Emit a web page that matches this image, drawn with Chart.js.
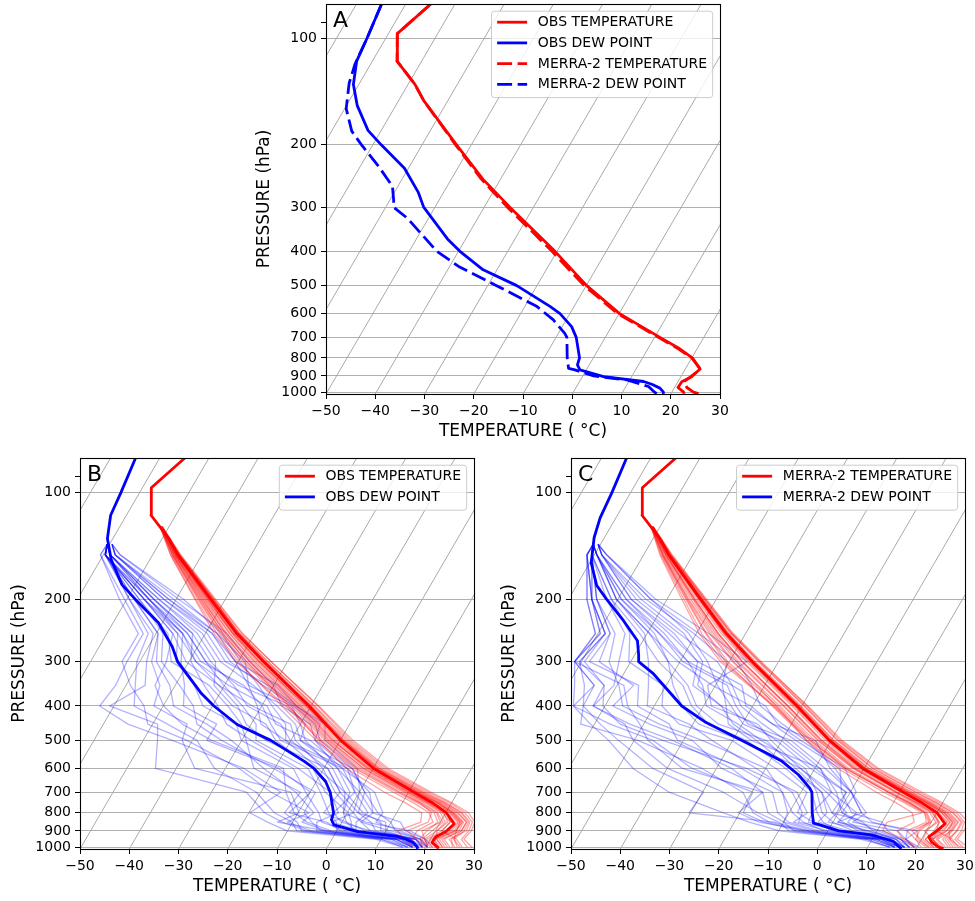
<!DOCTYPE html>
<html>
<head>
<meta charset="utf-8">
<script src="https://cdn.jsdelivr.net/npm/chart.js@4.4.0/dist/chart.umd.min.js"></script>
<style>
  body { margin: 0; background: #fff; width: 975px; height: 901px; position: relative; overflow: hidden; }
  canvas { position: absolute; }
</style>
</head>
<body>
<canvas id="skewA" style="left:240px;top:0px" width="490" height="445"></canvas>
<canvas id="skewB" style="left:0px;top:450px" width="485" height="451"></canvas>
<canvas id="skewC" style="left:490px;top:450px" width="485" height="451"></canvas>
<script>
// axis limits and ticks
const P_BOTTOM = 1012;
const P_TOP = 80;
const P_TICKS = [90, 100, 200, 300, 400, 500, 600, 700, 800, 900, 1000];
const T_MIN = -50;
const T_MAX = 30;
const ISOTHERMS = [-100, -90, -80, -70, -60, -50, -40, -30, -20, -10, 0, 10, 20, 30];

// mean profiles (deg C)
const MEAN_T_P = [1010, 1000, 970, 935, 905, 860, 800, 750, 700, 600, 500, 400, 300, 250, 200, 150, 135, 116, 97, 80];
const OBS_T = [22.7, 22.4, 20.7, 20.8, 22.2, 23.0, 20.1, 16.1, 11.1, 0.1, -9.9, -20.4, -34.8, -43.6, -53.0, -64.9, -68.6, -75.0, -78.2, -74.9];
const MERRA_T = [25.6, 24.4, 22.5, 21.2, 22.0, 23.0, 20.0, 15.8, 10.8, -0.3, -10.4, -21.0, -35.3, -43.9, -53.2, -64.9, -68.6, -75.0, -78.2, -74.9];

const OBS_TD_P = [1010, 1000, 974, 950, 933, 904, 865, 837, 800, 700, 653, 600, 573, 500, 451, 400, 369, 300, 272, 233, 200, 182, 155, 135, 116, 100, 80];
const OBS_TD = [18.5, 18.3, 17.1, 15.0, 13.0, 4.3, -1.3, -2.4, -2.8, -5.9, -8.1, -12.0, -14.8, -24.1, -32.8, -39.7, -43.7, -52.3, -55.2, -60.8, -68.3, -72.7, -77.8, -81.1, -83.2, -83.8, -84.9];

const MERRA_TD_P = [1010, 1000, 964, 923, 900, 865, 856, 800, 700, 682, 625, 573, 500, 443, 400, 323, 300, 287, 262, 230, 200, 183, 158, 134, 118, 100, 80];
const MERRA_TD = [17.1, 16.5, 14.6, 9.4, 2.2, -2.3, -3.8, -5.3, -7.8, -8.7, -12.6, -17.5, -28.2, -37.9, -44.4, -54.2, -58.4, -59.2, -61.1, -66.3, -72.3, -75.9, -79.7, -82.1, -83.2, -83.8, -84.9];

// individual soundings
const MEMBER_T_P = [1000, 950, 900, 850, 800, 750, 700, 600, 500, 400, 300, 250, 200, 150, 125];
const MEMBER_TD_P = [1000, 950, 900, 850, 800, 700, 600, 500, 450, 400, 350, 300, 250, 200, 150, 140];

const OBS_T_MEMBERS = [
  [23.4, 21.3, 23.8, 24.0, 21.1, 16.6, 11.6, 0.3, -9.9, -20.9, -35.6, -44.2, -53.5, -65.2, -71.5],
  [20.4, 18.3, 19.3, 20.5, 18.3, 14.1, 8.9, -2.4, -12.7, -23.6, -38.3, -46.4, -55.0, -65.9, -71.7],
  [26.4, 24.8, 25.8, 25.7, 23.1, 18.6, 13.1, 1.6, -8.7, -19.4, -34.0, -43.1, -52.4, -64.5, -71.4],
  [21.4, 19.3, 21.3, 22.0, 19.3, 15.1, 9.9, -1.4, -11.5, -22.2, -36.8, -45.1, -54.2, -65.5, -71.6],
  [24.9, 22.8, 24.8, 24.7, 21.9, 17.6, 12.3, 0.9, -9.4, -20.1, -35.0, -43.6, -52.8, -64.7, -71.5],
  [18.4, 16.3, 16.3, 18.5, 16.6, 12.3, 6.9, -4.4, -14.9, -25.9, -40.0, -47.6, -56.0, -66.3, -71.8],
  [28.4, 26.3, 26.8, 26.5, 23.9, 19.6, 14.1, 2.6, -7.9, -18.6, -33.3, -42.4, -52.0, -64.3, -71.3],
  [22.4, 20.3, 22.8, 23.5, 20.6, 16.1, 10.6, -0.7, -10.9, -21.6, -36.2, -44.6, -53.8, -65.3, -71.5],
  [19.4, 17.3, 14.3, 17.5, 17.1, 13.6, 8.1, -3.4, -13.7, -24.6, -39.2, -47.1, -55.6, -66.1, -71.7],
  [25.4, 24.3, 25.3, 25.3, 22.6, 18.3, 12.9, 1.3, -9.1, -19.8, -34.4, -43.3, -52.6, -64.6, -71.4],
  [20.9, 18.8, 20.3, 21.0, 18.9, 14.6, 9.3, -1.9, -12.1, -22.9, -37.6, -45.8, -54.8, -65.7, -71.6],
  [23.9, 21.8, 24.3, 24.3, 21.5, 17.1, 11.9, 0.6, -9.7, -20.6, -35.3, -44.0, -53.2, -64.9, -71.5],
  [27.4, 25.3, 21.3, 22.0, 20.1, 15.6, 10.1, -1.1, -11.3, -22.0, -36.6, -45.0, -54.0, -65.4, -71.5],
  [22.9, 20.8, 23.3, 23.7, 20.9, 16.3, 11.1, -0.4, -10.5, -21.2, -35.8, -44.4, -53.6, -65.1, -71.5],
  [19.9, 17.8, 18.3, 19.5, 17.6, 13.1, 7.6, -3.7, -14.1, -25.2, -40.4, -48.2, -56.2, -66.4, -71.8],
  [24.4, 22.3, 25.3, 25.3, 22.3, 17.9, 12.6, 1.1, -9.3, -20.0, -34.6, -43.2, -52.5, -64.6, -71.4],
  [17.4, 14.8, 12.3, 16.0, 15.1, 10.6, 5.1, -5.4, -14.4, -24.4, -38.3, -46.4, -55.2, -65.9, -71.7],
  [29.4, 26.8, 27.3, 27.0, 24.6, 20.1, 14.6, 3.1, -7.4, -18.4, -33.3, -42.6, -52.2, -64.4, -71.4],
  [23.4, 21.3, 20.3, 21.5, 19.6, 15.1, 9.6, -1.9, -12.4, -23.2, -37.8, -46.0, -54.6, -65.6, -71.6],
  [21.9, 19.8, 22.3, 23.0, 20.1, 15.6, 10.3, -0.9, -11.7, -22.6, -37.2, -45.6, -54.4, -65.5, -71.5],
  [25.9, 23.8, 26.3, 26.0, 23.3, 18.9, 13.6, 2.1, -8.3, -19.2, -34.0, -43.0, -52.5, -64.6, -71.4],
  [20.4, 18.8, 17.3, 20.0, 18.1, 13.6, 8.3, -2.9, -13.1, -24.0, -38.8, -46.8, -55.4, -66.0, -71.7],
  [22.4, 20.8, 24.1, 24.5, 21.6, 17.3, 12.1, 0.7, -9.6, -20.4, -35.1, -43.8, -53.0, -64.8, -71.5],
  [26.9, 24.8, 24.3, 24.0, 21.3, 17.1, 11.7, 0.3, -10.1, -21.0, -35.8, -44.4, -53.5, -65.1, -71.5]
];

const OBS_TD_MEMBERS = [
  [18.3, 16.0, 5.9, 0.9, -0.8, -1.9, -7.2, -18.1, -21.0, -26.9, -34.1, -43.6, -50.6, -63.5, -78.6, -80.5],
  [17.3, 13.0, -3.1, -6.1, -8.8, -8.9, -20.2, -34.1, -41.0, -43.9, -49.1, -55.6, -58.6, -67.5, -79.6, -80.5],
  [20.3, 18.0, 11.9, 9.9, 6.2, 1.1, -4.2, -14.1, -17.0, -23.5, -32.1, -41.6, -48.6, -61.5, -77.6, -79.5],
  [16.3, 11.0, -8.1, -10.1, -14.8, -20.9, -32.2, -39.1, -47.0, -55.9, -58.1, -60.6, -61.6, -69.5, -79.6, -80.5],
  [19.3, 17.0, 7.9, 5.9, 2.2, -3.9, -9.2, -20.1, -24.0, -32.9, -38.1, -45.6, -52.6, -64.5, -78.6, -80.5],
  [18.3, 14.0, 1.9, -4.1, -5.8, -10.9, -16.2, -30.1, -33.0, -41.9, -46.1, -52.6, -55.6, -66.5, -79.6, -80.5],
  [21.3, 19.0, 13.9, 11.9, 5.2, 2.1, -5.2, -15.1, -18.0, -25.9, -30.1, -37.6, -45.6, -59.5, -76.6, -79.5],
  [15.3, 9.0, -10.1, -15.1, -19.8, -15.9, -26.2, -44.1, -55.0, -62.9, -62.1, -62.6, -62.6, -70.5, -80.6, -80.5],
  [19.3, 15.0, 3.9, 2.9, 4.2, -0.9, -6.2, -22.1, -26.0, -29.9, -36.1, -47.6, -54.6, -65.5, -78.6, -80.5],
  [17.3, 12.0, -0.1, -1.1, -3.8, -7.9, -13.2, -27.1, -29.0, -33.9, -40.1, -46.6, -53.6, -65.5, -79.6, -80.5],
  [20.3, 18.0, 10.9, 3.9, 1.2, 0.1, -3.2, -13.1, -15.0, -23.0, -31.1, -42.6, -49.6, -62.5, -77.6, -79.5],
  [16.3, 10.0, -6.1, -12.1, -16.8, -22.9, -44.2, -47.1, -49.0, -60.9, -56.1, -58.6, -60.6, -69.5, -79.6, -80.5],
  [18.3, 16.0, 4.9, -2.1, 1.2, -4.9, -10.2, -19.1, -22.0, -31.9, -41.1, -50.6, -56.6, -66.5, -79.6, -80.5],
  [17.3, 13.0, -2.1, -8.1, -6.8, -12.9, -22.2, -32.1, -39.0, -47.9, -51.1, -56.6, -59.6, -68.5, -79.6, -80.5],
  [19.3, 17.0, 8.9, 7.9, 3.2, -2.9, -8.2, -17.1, -20.0, -23.9, -35.1, -40.6, -47.6, -60.5, -77.6, -79.5],
  [18.3, 14.0, -1.1, -7.1, -10.8, -14.9, -18.2, -36.1, -44.0, -49.9, -54.1, -54.6, -56.6, -66.5, -79.6, -80.5],
  [20.3, 17.0, 6.9, -0.1, -2.8, -0.9, -5.2, -21.1, -23.0, -27.9, -33.1, -39.6, -46.6, -58.5, -76.6, -79.5],
  [17.3, 14.0, -4.1, -5.1, -1.8, -5.9, -15.2, -28.1, -35.0, -38.9, -44.1, -49.6, -52.6, -64.5, -78.6, -80.5],
  [19.3, 18.0, 12.9, 6.9, 7.2, 3.1, -6.2, -16.1, -25.0, -28.9, -39.1, -48.6, -55.6, -65.5, -78.6, -80.5],
  [16.3, 12.0, -5.1, -11.1, -7.8, -17.9, -27.2, -41.1, -51.0, -53.9, -59.1, -63.6, -63.6, -71.5, -80.6, -80.5],
  [18.3, 15.0, 2.9, 1.9, 0.2, -6.9, -12.2, -23.1, -27.0, -35.9, -42.1, -44.6, -51.6, -63.5, -78.6, -80.5],
  [19.3, 16.0, 9.9, 8.9, 2.2, 1.1, -4.2, -18.1, -19.0, -24.9, -37.1, -46.6, -53.6, -64.5, -78.6, -80.5],
  [17.3, 13.0, 0.9, -3.1, -11.8, -9.9, -19.2, -37.1, -37.0, -45.9, -48.1, -51.6, -54.6, -65.5, -79.6, -80.5],
  [20.3, 19.0, 14.9, 4.9, -0.8, -2.9, -11.2, -21.1, -28.0, -30.9, -35.1, -38.6, -47.6, -61.5, -77.6, -79.5],
  [18.3, 13.0, -7.1, -9.1, -12.8, -11.9, -24.2, -29.1, -32.0, -36.9, -43.1, -53.6, -57.6, -67.5, -79.6, -80.5],
  [19.3, 17.0, 6.9, 3.9, 5.2, 0.1, -7.2, -15.1, -16.0, -22.9, -29.1, -40.6, -48.6, -62.5, -77.6, -79.5],
  [15.3, 10.0, -2.1, -13.1, -9.8, -13.9, -36.2, -42.1, -43.0, -51.9, -53.1, -57.6, -59.6, -68.5, -79.6, -80.5],
  [18.3, 16.0, 3.9, 0.9, -4.8, -3.9, -9.2, -25.1, -31.0, -34.9, -41.1, -48.6, -54.6, -66.5, -79.6, -80.5]
];

const MERRA_T_MEMBERS = [
  [24.9, 22.3, 23.6, 23.7, 21.0, 16.6, 11.4, 0.1, -10.2, -21.0, -35.6, -44.1, -53.4, -65.0, -71.5],
  [21.9, 18.8, 18.6, 20.0, 18.0, 13.6, 8.3, -3.1, -13.4, -24.5, -39.3, -47.3, -55.8, -66.1, -71.7],
  [27.9, 25.8, 26.1, 26.0, 23.2, 18.6, 13.2, 1.7, -8.8, -19.6, -34.1, -43.0, -52.4, -64.4, -71.4],
  [23.4, 20.8, 21.6, 21.7, 19.0, 14.6, 9.3, -1.9, -12.2, -23.0, -37.5, -45.7, -54.6, -65.5, -71.6],
  [26.4, 24.3, 24.9, 24.9, 22.0, 17.4, 12.0, 0.5, -9.8, -20.6, -35.1, -43.7, -52.9, -64.7, -71.5],
  [19.9, 16.8, 11.1, 11.0, 17.0, 12.3, 6.8, -4.5, -14.9, -26.0, -40.8, -48.1, -56.2, -66.3, -71.8],
  [29.4, 26.8, 27.1, 26.7, 24.0, 19.4, 14.0, 2.5, -8.2, -19.0, -33.5, -42.5, -52.0, -64.2, -71.3],
  [23.9, 21.8, 22.6, 23.3, 20.4, 15.8, 10.4, -0.9, -11.2, -22.0, -36.5, -44.9, -54.0, -65.3, -71.5],
  [20.9, 18.8, 16.1, 19.0, 17.5, 13.3, 7.8, -3.7, -14.2, -25.5, -41.3, -48.9, -56.6, -66.5, -71.8],
  [26.9, 24.8, 25.3, 25.5, 22.6, 18.0, 12.6, 1.1, -9.4, -20.2, -34.7, -43.4, -52.7, -64.6, -71.4],
  [22.9, 20.3, 20.1, 20.9, 18.6, 14.2, 9.0, -2.3, -12.8, -23.8, -38.5, -46.5, -55.2, -65.9, -71.6],
  [25.4, 23.0, 24.1, 24.3, 21.5, 17.0, 11.8, 0.3, -10.1, -21.0, -35.7, -44.2, -53.4, -64.9, -71.5],
  [28.4, 26.3, 22.1, 21.5, 19.5, 15.0, 9.6, -1.7, -12.0, -22.8, -37.3, -45.5, -54.4, -65.5, -71.5],
  [24.4, 22.0, 23.1, 23.9, 21.0, 16.2, 11.0, -0.5, -10.8, -21.6, -36.1, -44.5, -53.6, -65.1, -71.5],
  [22.4, 19.3, 18.1, 19.5, 17.5, 12.8, 7.6, -3.9, -14.4, -25.8, -41.8, -49.4, -57.0, -66.7, -71.8],
  [25.9, 23.3, 25.1, 25.3, 22.2, 17.6, 12.4, 0.9, -9.6, -20.4, -34.9, -43.5, -52.8, -64.7, -71.4],
  [19.4, 16.3, 14.1, 16.5, 15.0, 10.6, 5.3, -5.3, -15.0, -25.2, -39.1, -46.9, -55.6, -66.0, -71.7],
  [30.4, 27.3, 27.6, 27.5, 24.6, 20.0, 14.6, 2.9, -7.8, -18.8, -33.7, -42.7, -52.2, -64.4, -71.4],
  [24.9, 22.3, 19.6, 21.3, 19.2, 14.8, 9.4, -2.1, -12.6, -23.6, -38.1, -46.1, -54.8, -65.7, -71.6],
  [23.4, 20.8, 22.6, 23.1, 20.2, 15.4, 10.2, -1.3, -11.8, -22.8, -37.3, -45.5, -54.4, -65.4, -71.5],
  [27.4, 25.3, 26.3, 26.3, 23.4, 18.8, 13.4, 1.9, -8.6, -19.4, -33.9, -42.9, -52.4, -64.5, -71.4],
  [22.4, 19.8, 17.1, 19.7, 17.8, 13.2, 7.8, -3.5, -13.9, -25.0, -40.3, -47.9, -56.0, -66.2, -71.7],
  [24.4, 22.3, 24.1, 24.7, 21.6, 17.0, 11.8, 0.3, -10.0, -20.8, -35.3, -43.9, -53.1, -64.8, -71.5],
  [28.9, 25.8, 24.6, 24.3, 21.4, 16.8, 11.6, 0.1, -10.4, -21.4, -35.9, -44.4, -53.6, -65.1, -71.5]
];

const MERRA_TD_MEMBERS = [
  [16.5, 11.8, -0.8, -6.0, -9.3, -13.8, -19.9, -36.2, -46.8, -56.4, -59.6, -64.4, -66.5, -74.3, -80.5, -81.5],
  [18.5, 15.8, 10.2, 5.0, 0.7, -2.8, -8.9, -19.2, -25.8, -32.4, -36.6, -42.4, -53.5, -66.3, -78.5, -80.5],
  [15.5, 9.8, -5.8, -14.0, -19.3, -19.8, -34.9, -46.2, -56.8, -66.4, -64.6, -71.4, -69.5, -75.3, -81.5, -81.5],
  [17.5, 13.8, 5.2, 0.0, -3.3, -6.8, -11.9, -24.2, -30.8, -39.4, -42.6, -48.4, -56.5, -68.3, -79.5, -81.5],
  [20.5, 16.8, 16.2, 8.0, 4.7, 0.2, -5.9, -15.2, -21.8, -28.4, -32.6, -38.4, -49.5, -63.3, -77.5, -80.5],
  [14.5, 8.8, -3.8, -12.0, -30.3, -29.8, -42.9, -53.2, -58.8, -64.4, -66.6, -70.4, -68.5, -75.3, -80.5, -81.5],
  [16.5, 12.8, 3.2, -7.0, -7.3, -11.8, -21.9, -34.2, -40.8, -51.4, -53.6, -56.4, -60.5, -70.3, -79.5, -81.5],
  [17.5, 14.8, 8.2, -1.0, -0.3, -0.8, -10.9, -21.2, -27.8, -36.4, -44.6, -46.4, -54.5, -67.3, -78.5, -80.5],
  [19.5, 15.8, 12.2, 10.0, 2.7, -1.8, -4.9, -17.2, -23.8, -30.4, -40.6, -50.4, -59.5, -70.3, -79.5, -81.5],
  [15.5, 10.8, -2.8, -10.0, -14.3, -17.8, -26.9, -42.2, -52.8, -62.4, -60.6, -62.4, -64.5, -72.3, -80.5, -81.5],
  [18.5, 14.8, 7.2, 3.0, 3.7, -3.8, -8.9, -26.2, -32.8, -35.4, -38.6, -40.4, -50.5, -64.3, -78.5, -80.5],
  [14.5, 7.8, -9.8, -17.0, -23.3, -36.8, -46.9, -55.2, -60.8, -66.4, -68.6, -71.4, -70.5, -76.3, -81.5, -81.5],
  [17.5, 12.8, 4.2, -3.0, -2.3, -5.8, -13.9, -23.2, -34.8, -41.4, -45.6, -52.4, -58.5, -69.3, -79.5, -81.5],
  [16.5, 11.8, 1.2, -4.0, -8.3, -8.8, -17.9, -30.2, -42.8, -48.4, -50.6, -60.4, -63.5, -71.3, -80.5, -81.5],
  [19.5, 16.8, 14.2, 4.0, 5.7, 0.2, -6.9, -13.2, -23.8, -31.4, -34.6, -46.4, -55.5, -67.3, -78.5, -80.5],
  [16.5, 10.8, -1.8, -9.0, -12.3, -15.8, -28.9, -38.2, -48.8, -58.4, -56.6, -66.4, -67.5, -74.3, -80.5, -81.5],
  [17.5, 13.8, 6.2, 2.0, -1.3, -0.8, -9.9, -20.2, -29.8, -34.4, -39.6, -44.4, -51.5, -63.3, -77.5, -80.5],
  [15.5, 11.8, 0.2, -8.0, -6.3, -10.8, -23.9, -44.2, -54.8, -60.4, -62.6, -69.4, -68.5, -75.3, -81.5, -81.5],
  [18.5, 15.8, 11.2, 1.0, 1.7, -4.8, -12.9, -22.2, -26.8, -38.4, -41.6, -36.4, -47.5, -62.3, -77.5, -80.5],
  [15.5, 9.8, -4.8, -13.0, -17.3, -21.8, -32.9, -49.2, -62.8, -64.4, -64.6, -71.4, -70.5, -76.3, -81.5, -81.5],
  [16.5, 13.8, 2.2, -2.0, -4.3, -7.8, -15.9, -27.2, -36.8, -42.4, -46.6, -54.4, -61.5, -71.3, -80.5, -81.5],
  [17.5, 14.8, 9.2, 6.0, 0.7, 1.2, -3.9, -16.2, -22.8, -27.4, -36.6, -48.4, -57.5, -69.3, -79.5, -81.5],
  [15.5, 10.8, -6.8, -10.0, -10.3, -13.8, -24.9, -41.2, -44.8, -53.4, -55.6, -68.4, -67.5, -74.3, -80.5, -81.5],
  [19.5, 16.8, 18.2, 7.0, -1.3, -5.8, -14.9, -25.2, -31.8, -36.4, -43.6, -45.4, -52.5, -65.3, -78.5, -80.5],
  [16.5, 11.8, -3.8, -15.0, -20.3, -17.8, -36.9, -47.2, -50.8, -55.4, -58.6, -71.4, -69.5, -75.3, -81.5, -81.5],
  [18.5, 15.8, 8.2, 1.0, 4.7, 0.2, -7.9, -18.2, -28.8, -33.4, -37.6, -49.4, -57.5, -68.3, -79.5, -81.5],
  [14.5, 8.8, -7.8, -11.0, -16.3, -25.8, -39.9, -50.2, -53.8, -62.4, -62.6, -70.4, -68.5, -75.3, -80.5, -81.5],
  [17.5, 12.8, 3.2, -5.0, -5.3, -3.8, -12.9, -28.2, -38.8, -44.4, -48.6, -52.4, -59.5, -70.3, -79.5, -81.5]
];

const FONT = "'DejaVu Sans', sans-serif";
const RED = "#ff0000";
const BLUE = "#0000ff";
const DASH = [15, 5.5];

Chart.defaults.font.family = FONT;
Chart.defaults.color = "#000";

function profile(levels, temps, style) {
  return Object.assign(
    { data: levels.map((p, i) => ({ x: temps[i], y: p })), pointRadius: 0, borderJoinStyle: "round", fill: false },
    style
  );
}

function isothermSets() {
  return ISOTHERMS.map((t) => ({
    data: [{ x: t, y: P_BOTTOM }, { x: t, y: P_TOP }],
    borderColor: "#a9a9a9",
    borderWidth: 1,
    pointRadius: 0,
    order: 10,
  }));
}

// skew-T: shift every point right in proportion to its height in the plot (30 deg)
const skewPlugin = {
  id: "skewT",
  afterDatasetsUpdate(chart) {
    const { left, right, top, bottom } = chart.chartArea;
    const k = Math.tan(Math.PI / 6) * (right - left) / (bottom - top);
    chart.getSortedVisibleDatasetMetas().forEach((meta) => {
      meta.data.forEach((pt) => {
        pt.x += k * (bottom - pt.y);
      });
    });
  },
  afterDraw(chart, args, opts) {
    const { ctx, chartArea: a } = chart;
    ctx.save();
    // frame
    ctx.strokeStyle = "#000";
    ctx.lineWidth = 1.1;
    ctx.strokeRect(Math.round(a.left) + 0.5, Math.round(a.top) + 0.5, Math.round(a.width), Math.round(a.height));

    // panel letter
    ctx.fillStyle = "#000";
    ctx.font = "22px " + FONT;
    ctx.textBaseline = "alphabetic";
    ctx.fillText(opts.letter, a.left + 7, a.top + 22.5);

    // legend in upper right
    const items = chart.data.datasets.filter((d) => d.inLegend);
    ctx.font = "14px " + FONT;
    const textW = Math.max(...items.map((d) => ctx.measureText(d.label).width));
    const w = 5.6 + 30 + 10.7 + textW + 5.6;
    const h = 11 + (items.length - 1) * 20.7 + 13.3;
    const x0 = a.right - 7.3 - w;
    const y0 = a.top + 7.2;
    const r = 3;
    ctx.beginPath();
    ctx.moveTo(x0 + r, y0);
    ctx.arcTo(x0 + w, y0, x0 + w, y0 + h, r);
    ctx.arcTo(x0 + w, y0 + h, x0, y0 + h, r);
    ctx.arcTo(x0, y0 + h, x0, y0, r);
    ctx.arcTo(x0, y0, x0 + w, y0, r);
    ctx.closePath();
    ctx.fillStyle = "rgba(255,255,255,0.8)";
    ctx.fill();
    ctx.strokeStyle = "#cccccc";
    ctx.lineWidth = 1;
    ctx.stroke();

    items.forEach((d, i) => {
      const cy = y0 + 11 + i * 20.7;
      ctx.beginPath();
      ctx.setLineDash(d.borderDash || []);
      ctx.strokeStyle = d.borderColor;
      ctx.lineWidth = d.borderWidth;
      ctx.moveTo(x0 + 5.6, cy);
      ctx.lineTo(x0 + 35.6, cy);
      ctx.stroke();
      ctx.setLineDash([]);
      ctx.fillStyle = "#000";
      ctx.textBaseline = "middle";
      ctx.fillText(d.label, x0 + 46.3, cy + 0.5);
    });
    ctx.restore();
  },
};

const fmtTemp = (v) => (v < 0 ? "\u2212" + Math.abs(v) : String(v));

function skewOptions(cfg) {
  return {
    responsive: false,
    animation: false,
    events: [],
    indexAxis: "y",
    layout: { padding: cfg.padding },
    plugins: {
      legend: { display: false },
      tooltip: { enabled: false },
      skewT: { letter: cfg.letter },
    },
    scales: {
      x: {
        type: "linear",
        min: T_MIN,
        max: T_MAX,
        afterFit: (s) => {
          s.height = cfg.xHeight;
          s.paddingLeft = 0;
          s.paddingRight = 0;
        },
        ticks: { stepSize: 10, padding: 4, font: { size: 14 }, color: "#000", maxRotation: 0, autoSkip: false, callback: fmtTemp },
        grid: { drawOnChartArea: false, tickLength: 5, tickColor: "#000", tickWidth: 1 },
        border: { display: true, color: "#000", width: 1 },
        title: { display: true, text: "TEMPERATURE ( \u00b0C)", font: { size: 17 }, color: "#000", padding: { top: 0, bottom: cfg.xTitlePad } },
      },
      y: {
        type: "logarithmic",
        reverse: true,
        min: P_TOP,
        max: P_BOTTOM,
        afterFit: (s) => {
          s.width = cfg.yWidth;
          s.paddingTop = 0;
          s.paddingBottom = 0;
        },
        afterBuildTicks: (s) => {
          s.ticks = P_TICKS.map((v) => ({ value: v }));
        },
        ticks: { padding: 4, font: { size: 14 }, color: "#000", autoSkip: false, callback: (v) => (v === 90 ? "" : String(v)) },
        grid: {
          color: (c) => (c.tick && c.tick.value === 90 ? "rgba(0,0,0,0)" : "#b0b0b0"),
          lineWidth: 1,
          tickLength: 5,
          tickColor: "#000",
          tickWidth: 1,
        },
        border: { display: true, color: "#000", width: 1 },
        title: { display: true, text: "PRESSURE (hPa)", font: { size: 17 }, color: "#000", padding: { top: cfg.yTitlePad, bottom: 0 } },
      },
    },
  };
}

function memberSets(levels, members, color, order) {
  return members.map((m) => profile(levels, m, { borderColor: color, borderWidth: 1.3, order: order }));
}

// Panel A: observed vs MERRA-2 mean profiles
new Chart(document.getElementById("skewA"), {
  type: "line",
  data: {
    datasets: [
      profile(MEAN_T_P, OBS_T, { label: "OBS TEMPERATURE", borderColor: RED, borderWidth: 2.8, order: 1, inLegend: true }),
      profile(OBS_TD_P, OBS_TD, { label: "OBS DEW POINT", borderColor: BLUE, borderWidth: 2.8, order: 1, inLegend: true }),
      profile(MEAN_T_P, MERRA_T, { label: "MERRA-2 TEMPERATURE", borderColor: RED, borderWidth: 2.8, borderDash: DASH, order: 0, inLegend: true }),
      profile(MERRA_TD_P, MERRA_TD, { label: "MERRA-2 DEW POINT", borderColor: BLUE, borderWidth: 2.8, borderDash: DASH, order: 0, inLegend: true }),
      ...isothermSets(),
    ],
  },
  options: skewOptions({ letter: "A", padding: { top: 4, right: 10, left: 0, bottom: 0 }, xHeight: 51, yWidth: 86, xTitlePad: 3, yTitlePad: 14.8 }),
  plugins: [skewPlugin],
});

// Panel B: observed soundings
new Chart(document.getElementById("skewB"), {
  type: "line",
  data: {
    datasets: [
      profile(MEAN_T_P, OBS_T, { label: "OBS TEMPERATURE", borderColor: RED, borderWidth: 2.8, order: 0, inLegend: true }),
      profile(OBS_TD_P, OBS_TD, { label: "OBS DEW POINT", borderColor: BLUE, borderWidth: 2.8, order: 0, inLegend: true }),
      ...memberSets(MEMBER_T_P, OBS_T_MEMBERS, "rgba(255,0,0,0.36)", 4),
      ...memberSets(MEMBER_TD_P, OBS_TD_MEMBERS, "rgba(0,0,255,0.3)", 5),
      ...isothermSets(),
    ],
  },
  options: skewOptions({ letter: "B", padding: { top: 8, right: 11, left: 0, bottom: 0 }, xHeight: 52, yWidth: 80, xTitlePad: 4, yTitlePad: 9.8 }),
  plugins: [skewPlugin],
});

// Panel C: MERRA-2 profiles
new Chart(document.getElementById("skewC"), {
  type: "line",
  data: {
    datasets: [
      profile(MEAN_T_P, MERRA_T, { label: "MERRA-2 TEMPERATURE", borderColor: RED, borderWidth: 2.8, order: 0, inLegend: true }),
      profile(MERRA_TD_P, MERRA_TD, { label: "MERRA-2 DEW POINT", borderColor: BLUE, borderWidth: 2.8, order: 0, inLegend: true }),
      ...memberSets(MEMBER_T_P, MERRA_T_MEMBERS, "rgba(255,0,0,0.36)", 4),
      ...memberSets(MEMBER_TD_P, MERRA_TD_MEMBERS, "rgba(0,0,255,0.3)", 5),
      ...isothermSets(),
    ],
  },
  options: skewOptions({ letter: "C", padding: { top: 8, right: 10, left: 0, bottom: 0 }, xHeight: 52, yWidth: 81, xTitlePad: 4, yTitlePad: 9.8 }),
  plugins: [skewPlugin],
});
</script>
</body>
</html>
